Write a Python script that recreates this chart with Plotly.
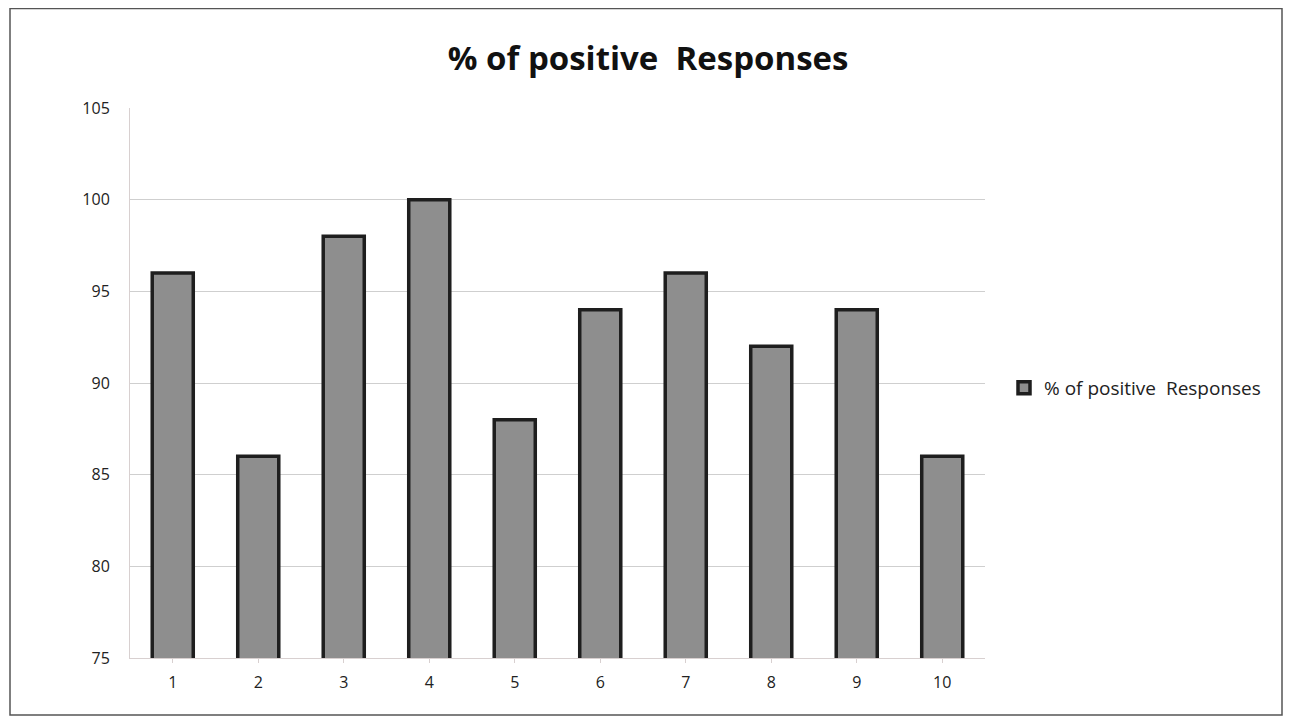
import plotly.graph_objects as go

categories = ["1", "2", "3", "4", "5", "6", "7", "8", "9", "10"]
values = [96, 86, 98, 100, 88, 94, 96, 92, 94, 86]
series_name = "% of positive  Responses"
title_text = "% of positive  Responses"
y_ticks = [75, 80, 85, 90, 95, 100, 105]

fig = go.Figure()
fig.add_trace(go.Bar(
    x=categories, y=values, name=series_name,
    marker=dict(color="#8e8e8e", line=dict(color="#1e1e1e", width=3.5)),
    showlegend=True,
))

# page offset of 8px (body margin) is compensated here
OFF = 8
W, H = 1294 - OFF, 722 - OFF
L, T = 130 - OFF, 108 - OFF
pw, ph = 855, 550
R, B = W - L - pw, H - T - ph

fig.update_layout(
    width=W, height=H,
    margin=dict(l=L, r=R, t=T, b=B),
    paper_bgcolor="white", plot_bgcolor="white",
    bargap=0.52,
    title=dict(text=title_text, x=(L + pw * 0.6) / W + 0.004, xanchor="center", y=1 - (58 - OFF) / H, yanchor="middle",
               font=dict(family="Open Sans", size=33, color="#111111", weight="bold")),
    font=dict(family="Open Sans", size=16, color="#222222"),
    legend=dict(x=(1004 - OFF - L) / pw, y=(T + ph - (388 - OFF)) / ph, xanchor="left", yanchor="middle",
                font=dict(size=19, color="#222222"), bgcolor="rgba(0,0,0,0)"),
    xaxis=dict(showgrid=False, showline=True, linecolor="#d8d0d0", ticks="outside",
               tickcolor="#d8d0d0", ticklen=4, ticklabelstandoff=6),
    yaxis=dict(range=[75, 105], tickvals=y_ticks, showgrid=True, gridcolor="#cfcfcf",
               gridwidth=1, showline=True, linecolor="#d8d0d0", zeroline=False,
               ticks="", ticklabelstandoff=16),
    shapes=[dict(type="rect", xref="paper", yref="paper",
                 x0=(2 - L) / pw, x1=(1274 - L) / pw,
                 y0=(T + ph - 707) / ph, y1=(T + ph - 0.5) / ph,
                 line=dict(color="#555555", width=1.5), fillcolor="rgba(0,0,0,0)", layer="below")],
)

fig.write_html("out.html")
